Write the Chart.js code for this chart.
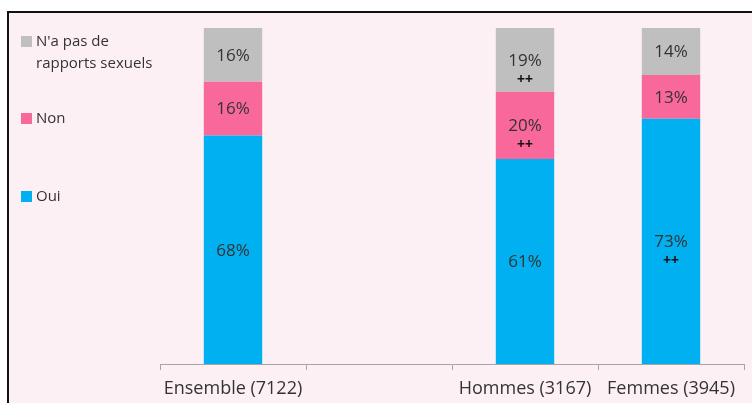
<!DOCTYPE html>
<html>
<head>
<meta charset="utf-8">
<script src="https://cdn.jsdelivr.net/npm/chart.js@4/dist/chart.umd.min.js"></script>
<style>
  html, body { margin: 0; padding: 0; background: #fff; overflow: hidden; }
  #frame { position: absolute; left: 7px; top: 11px; width: 800px; height: 450px;
           border: 2px solid #111; background: #fdf0f4; }
  #wrap { position: absolute; left: 0; top: 0; width: 752px; height: 403px; }
</style>
</head>
<body>
<div id="frame"></div>
<div id="wrap"><canvas id="myChart" width="752" height="403"></canvas></div>
<script>
// categories (second slot is an empty spacer column, as in the original)
var categories = ['Ensemble (7122)', '', 'Hommes (3167)', 'Femmes (3945)'];

// percentages per answer
var oui = [68, null, 61, 73];
var non = [16, null, 20, 13];
var sansRapports = [16, null, 19, 14];

// significance markers
var ouiSig = ['', '', '', '++'];
var nonSig = ['', '', '++', ''];
var sansSig = ['', '', '++', ''];

var FONT = "'Open Sans', 'DejaVu Sans', sans-serif";

var segmentLabels = {
    id: 'segmentLabels',
    afterDatasetsDraw: function(chart) {
        var ctx = chart.ctx;
        ctx.save();
        ctx.textAlign = 'center';
        ctx.textBaseline = 'middle';
        chart.data.datasets.forEach(function(ds, i) {
            var meta = chart.getDatasetMeta(i);
            meta.data.forEach(function(bar, j) {
                if (ds.data[j] == null) return;
                var cy = (bar.y + bar.base) / 2;
                ctx.fillStyle = '#333';
                ctx.font = '17px ' + FONT;
                ctx.fillText(ds.data[j] + '%', bar.x, cy + 1);
                if (ds.sig[j]) {
                    ctx.fillStyle = '#111';
                    ctx.font = 'bold 14px ' + FONT;
                    ctx.fillText(ds.sig[j], bar.x, cy + 20);
                }
            });
        });
        ctx.restore();
    }
};

var sideLegend = {
    id: 'sideLegend',
    afterDraw: function(chart) {
        var ctx = chart.ctx;
        var rows = [
            { ds: 2, y: 42, lines: ["N'a pas de", 'rapports sexuels'] },
            { ds: 1, y: 119, lines: ['Non'] },
            { ds: 0, y: 197, lines: ['Oui'] }
        ];
        ctx.save();
        ctx.font = '15px ' + FONT;
        ctx.textBaseline = 'middle';
        ctx.textAlign = 'left';
        rows.forEach(function(r) {
            ctx.fillStyle = chart.data.datasets[r.ds].backgroundColor;
            ctx.fillRect(21, r.y - 6, 11, 11);
            ctx.fillStyle = '#333';
            r.lines.forEach(function(t, k) {
                ctx.fillText(t, 36, r.y + k * 22);
            });
        });
        ctx.restore();
    }
};

var ctx = document.getElementById('myChart').getContext('2d');
var myChart = new Chart(ctx, {
    type: 'bar',
    data: {
        labels: categories,
        datasets: [
            { label: 'Oui', data: oui, sig: ouiSig, backgroundColor: '#00b0f0' },
            { label: 'Non', data: non, sig: nonSig, backgroundColor: '#f9689a' },
            { label: "N'a pas de rapports sexuels", data: sansRapports, sig: sansSig, backgroundColor: '#bfbfbf' }
        ]
    },
    options: {
        responsive: false,
        animation: false,
        layout: { padding: { left: 160, right: 8, top: 28, bottom: 0 } },
        datasets: {
            bar: { barPercentage: 0.4, categoryPercentage: 1.0 }
        },
        plugins: {
            legend: { display: false },
            tooltip: { enabled: false }
        },
        scales: {
            y: {
                stacked: true,
                display: false,
                min: 0,
                max: 100
            },
            x: {
                stacked: true,
                afterFit: function(s) { s.height = 39; },
                border: { display: true, color: '#a6a6a6', width: 1 },
                grid: {
                    drawOnChartArea: false,
                    drawTicks: true,
                    tickLength: 6,
                    color: '#a6a6a6'
                },
                ticks: {
                    color: '#333',
                    padding: 8,
                    maxRotation: 0,
                    autoSkip: false,
                    font: { family: FONT, size: 18 }
                }
            }
        }
    },
    plugins: [segmentLabels, sideLegend]
});
</script>
</body>
</html>
